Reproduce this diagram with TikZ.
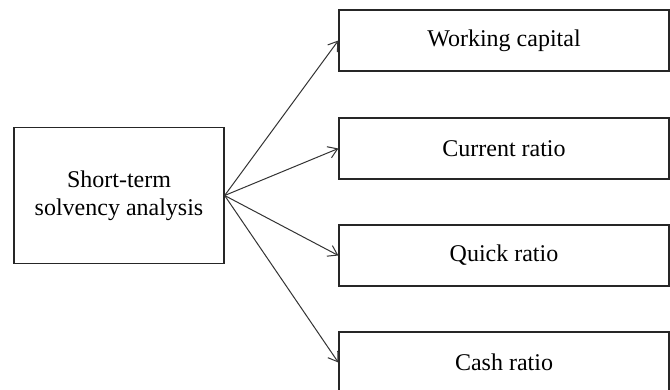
\documentclass[tikz,border=0pt]{standalone}
\usepackage{fontspec}
\setmainfont{Liberation Serif}
\usetikzlibrary{arrows.meta}
\begin{document}
\begin{tikzpicture}[x=1pt,y=-1pt,
  box/.style={draw=black!85, line width=1.3pt, minimum height=61pt, inner sep=0pt, align=center, font=\fontsize{24}{28}\selectfont},
  arr/.style={draw=black!80, line width=1pt, -{Straight Barb[length=9pt,width=12pt]}}]
\useasboundingbox (0,0) rectangle (670,390);
\node[box, minimum width=210pt, minimum height=136pt] (src) at (119,195.5) {Short-term\\solvency analysis};
\node[box, minimum width=330pt] (wc) at (504,40.5) {Working capital};
\node[box, minimum width=330pt] (cr) at (504,148.5) {Current ratio};
\node[box, minimum width=330pt] (qr) at (504,255.5) {Quick ratio};
\node[box, minimum width=330pt] (ca) at (504,362.5) {Cash ratio};
\foreach \t in {wc,cr,qr,ca} \draw[arr] (src.east) -- (\t.west);
\end{tikzpicture}
\end{document}
